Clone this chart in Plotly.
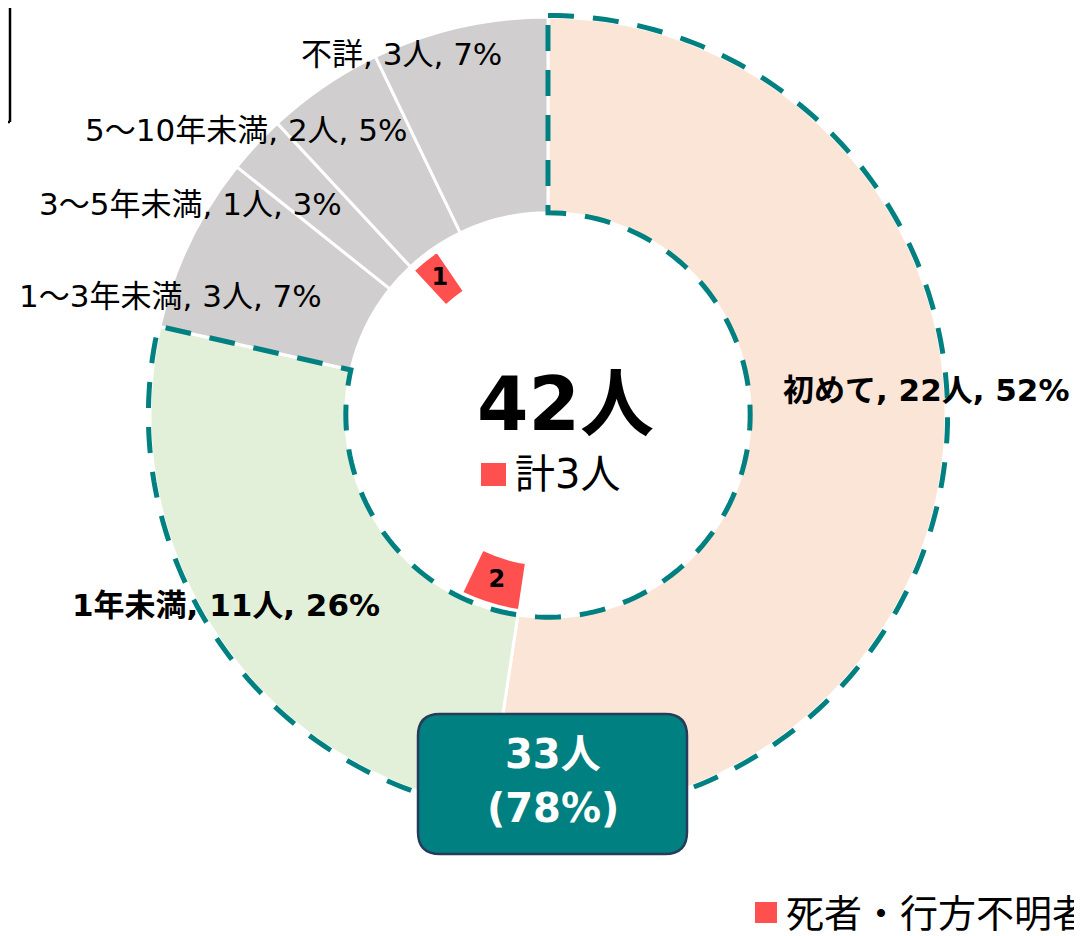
import numpy as np
import plotly.graph_objects as go

# ---------------- data ----------------
categories = ["初めて", "1年未満", "1～3年未満", "3～5年未満", "5～10年未満", "不詳"]
people = [22, 11, 3, 1, 2, 3]
percents = [52, 26, 7, 3, 5, 7]
deaths = [0, 2, 0, 0, 1, 0]
slice_colors = ["#FBE5D6", "#E2F0D9", "#D0CECE", "#D0CECE", "#D0CECE", "#D0CECE"]
bold_labels = [True, True, False, False, False, False]
group_size = 2          # first two categories are outlined together
group_people = 33
group_percent = 78
total_people = 42
total_deaths = 3

# ---------------- layout constants ----------------
OFF = 8                         # page body margin
W, H = 1082 - OFF, 936 - OFF    # figure size
CX, CY, R = 548, 415, 398       # donut centre / outer radius (page pixels)
RMAX = 1.018                    # radial range headroom so outline is not clipped
HOLE = 0.508
DEATH_IN, DEATH_OUT = 0.377, 0.495
FONT = "DejaVu Sans, Noto Sans CJK JP"
TEAL = "#008080"
RED = "#FF5050"


def px(x, y):
    """page pixel -> paper coordinates"""
    return (x - OFF) / W, 1 - (y - OFF) / H


# angles (clockwise from 12 o'clock)
tot = sum(people)
spans = [p / tot * 360 for p in people]
starts = np.concatenate([[0], np.cumsum(spans)[:-1]])
centers = [s + w / 2 for s, w in zip(starts, spans)]

fig = go.Figure()

# main ring
fig.add_trace(go.Barpolar(
    r=[1 - HOLE] * len(people), base=[HOLE] * len(people),
    theta=centers, width=spans,
    marker=dict(color=slice_colors, line=dict(color="white", width=3)),
    hoverinfo="skip", showlegend=False))

# deaths inner wedges
d_theta, d_width, d_text = [], [], []
for s, w, p, d in zip(starts, spans, people, deaths):
    if d > 0:
        dw = d / tot * 360
        d_theta.append(s + dw / 2)
        d_width.append(dw)
        d_text.append(str(d))
fig.add_trace(go.Barpolar(
    r=[DEATH_OUT - DEATH_IN] * len(d_theta), base=[DEATH_IN] * len(d_theta),
    theta=d_theta, width=d_width,
    marker=dict(color=RED, line=dict(color="white", width=1.5)),
    hoverinfo="skip", showlegend=False))
fig.add_trace(go.Scatterpolar(
    r=[(DEATH_IN + DEATH_OUT) / 2] * len(d_theta), theta=d_theta,
    mode="text", text=[f"<b>{t}</b>" for t in d_text],
    textfont=dict(family=FONT, size=24, color="black"),
    hoverinfo="skip", showlegend=False, cliponaxis=False))

# dashed outline around the group
g_end = starts[group_size] if group_size < len(starts) else 360
outer_t = np.linspace(0, g_end, 240)
inner_t = np.linspace(g_end, 0, 140)
ot = list(outer_t) + list(inner_t) + [0]
orr = [1.004] * len(outer_t) + [HOLE] * len(inner_t) + [1.004]
fig.add_trace(go.Scatterpolar(
    r=orr, theta=ot, mode="lines",
    line=dict(color=TEAL, width=5, dash="26px,19px"),
    hoverinfo="skip", showlegend=False, cliponaxis=False))

dx0, dy1 = px(CX - R * RMAX, CY - R * RMAX)
dx1, dy0 = px(CX + R * RMAX, CY + R * RMAX)
fig.update_layout(
    width=W, height=H, margin=dict(l=0, r=0, t=0, b=0),
    paper_bgcolor="white", plot_bgcolor="white",
    font=dict(family=FONT, color="black"),
    polar=dict(
        domain=dict(x=[max(0, dx0), min(1, dx1)], y=[max(0, dy0), min(1, dy1)]),
        bgcolor="rgba(0,0,0,0)",
        radialaxis=dict(visible=False, range=[0, RMAX]),
        angularaxis=dict(rotation=90, direction="clockwise", visible=False),
        bargap=0,
    ),
    showlegend=False,
)

# category labels
label_pos = [(926, 390), (226, 605), (170, 296), (190, 204), (246, 130), (401, 54)]
for c, p, pc, b, (lx, ly) in zip(categories, people, percents, bold_labels, label_pos):
    txt = f"{c}, {p}人, {pc}%"
    if b:
        txt = f"<b>{txt}</b>"
    x, y = px(lx, ly)
    fig.add_annotation(x=x, y=y, xref="paper", yref="paper", text=txt,
                       showarrow=False, xanchor="center", yanchor="middle",
                       font=dict(family=FONT, size=31, color="black"))

# centre text
x, y = px(565, 404)
fig.add_annotation(x=x, y=y, xref="paper", yref="paper",
                   text=f"<b>{total_people}人</b>", showarrow=False,
                   font=dict(family=FONT, size=74, color="black"))
x, y = px(513, 474)
fig.add_annotation(x=x, y=y, xref="paper", yref="paper", xanchor="left",
                   text=f"計{total_deaths}人",
                   showarrow=False, font=dict(family=FONT, size=40, color="black"))
sx0, sy0 = px(481, 463)
sx1, sy1 = px(506, 486)
fig.add_shape(type="rect", xref="paper", yref="paper", x0=sx0, x1=sx1, y0=sy1, y1=sy0,
              fillcolor=RED, line=dict(width=0))

# group box (rounded)
bx0, by0, bx1, by1, rad = 418, 714, 687, 854, 22


def P(x, y):
    a, b = px(x, y)
    return f"{a:.5f},{b:.5f}"


path = (f"M {P(bx0 + rad, by0)} L {P(bx1 - rad, by0)} Q {P(bx1, by0)} {P(bx1, by0 + rad)} "
        f"L {P(bx1, by1 - rad)} Q {P(bx1, by1)} {P(bx1 - rad, by1)} "
        f"L {P(bx0 + rad, by1)} Q {P(bx0, by1)} {P(bx0, by1 - rad)} "
        f"L {P(bx0, by0 + rad)} Q {P(bx0, by0)} {P(bx0 + rad, by0)} Z")
fig.add_shape(type="path", path=path, xref="paper", yref="paper",
              fillcolor=TEAL, line=dict(color="#253D5B", width=2.5), layer="above")
for line_txt, ly in [(f"<b>{group_people}人</b>", 754), (f"<b>({group_percent}%)</b>", 808)]:
    x, y = px((bx0 + bx1) / 2, ly)
    fig.add_annotation(x=x, y=y, xref="paper", yref="paper", text=line_txt,
                       showarrow=False, yanchor="middle",
                       font=dict(family=FONT, size=40, color="white"))

# legend-like note at bottom right
lx0, ly0 = px(755, 902)
lx1, ly1 = px(777, 923)
fig.add_shape(type="rect", xref="paper", yref="paper", x0=lx0, x1=lx1, y0=ly1, y1=ly0,
              fillcolor=RED, line=dict(width=0))
x, y = px(784, 912)
fig.add_annotation(x=x, y=y, xref="paper", yref="paper", xanchor="left", yanchor="top",
                   yshift=22, text="死者・行方不明者",
                   showarrow=False, font=dict(family=FONT, size=38, color="black"))

# partial box at top-left (corner of a frame cut by the page edge)
for (ax0, ay0, ax1, ay1) in [(10, 0, 10, 122), (0, 122, 10, 122)]:
    a0, b0 = px(ax0, ay0)
    a1, b1 = px(ax1, ay1)
    fig.add_shape(type="line", xref="paper", yref="paper", x0=a0, y0=b0, x1=a1, y1=b1,
                  line=dict(color="black", width=2.5))

fig.write_html("out.html")
